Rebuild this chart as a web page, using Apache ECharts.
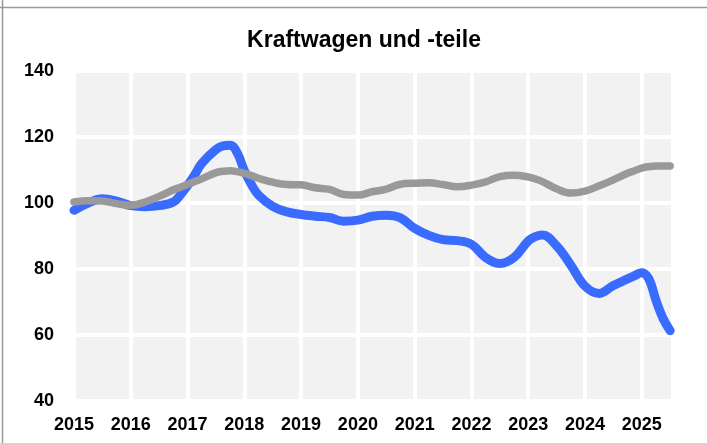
<!DOCTYPE html>
<html>
	<head>
		<meta charset="utf-8" />
		<title>Kraftwagen und -teile</title>
		<style type="text/css">
			html, body {margin:0;padding:0;background:#fff;}
			#chart {width:707px;height:443px;}
		</style>
	</head>
	<body>
		<div id="chart"></div>
		<script src="https://cdn.jsdelivr.net/npm/echarts@6/dist/echarts.min.js"></script>
		<script type="text/javascript">
			// Zeitpunkte (Jahr als Dezimalzahl, meist vierteljährlich, an Wendestellen dichter)
			const dates = [
				2015.0, 2015.25, 2015.5, 2015.75, 2016.0, 2016.25, 2016.5, 2016.75, 2016.875,
				2017.0, 2017.125, 2017.25, 2017.5, 2017.625, 2017.75, 2017.875, 2018.0, 2018.125, 2018.25, 2018.5, 2018.75,
				2019.0, 2019.25, 2019.5, 2019.75, 2020.0, 2020.25, 2020.5, 2020.75,
				2021.0, 2021.25, 2021.5, 2021.75, 2022.0, 2022.25, 2022.5, 2022.75,
				2023.0, 2023.125, 2023.25, 2023.5, 2023.75, 2024.0, 2024.25, 2024.5, 2024.75, 2024.875,
				2025.0, 2025.125, 2025.25, 2025.375, 2025.5
			];
			// blaue Linie
			const blueValues = [
				97.8, 100.0, 101.3, 100.6, 99.2, 98.9, 99.2, 100.3, 102.5,
				105.3, 108.5, 112.0, 116.2, 117.3, 117.5, 115.2, 109.8, 105.6, 102.4, 99.0, 97.3,
				96.5, 96.0, 95.6, 94.5, 94.8, 96.0, 96.3, 95.5,
				92.3, 90.2, 88.9, 88.6, 87.5, 83.5, 81.7, 83.5,
				88.5, 89.8, 90.3, 87.0, 81.2, 74.8, 72.6, 75.0, 77.0, 78.0,
				78.9, 77.0, 70.5, 65.0, 61.3
			];
			// graue Linie
			const grayValues = [
				100.3, 100.7, 100.6, 99.8, 99.3, 100.3, 102.0, 104.0, 104.8,
				105.6, 106.5, 107.3, 109.2, 109.6, 109.8, 109.5, 109.0, 108.3, 107.5, 106.3, 105.6,
				105.5, 104.6, 104.1, 102.6, 102.4, 103.4, 104.2, 105.7,
				106.0, 106.1, 105.6, 104.9, 105.4, 106.4, 108.0, 108.4,
				107.9, 107.3, 106.5, 104.3, 103.0, 103.6, 105.2, 107.0, 109.0, 109.8,
				110.6, 111.0, 111.2, 111.2, 111.2
			];
			const yTicks = [40, 60, 80, 100, 120, 140];

			const chart = echarts.init(document.getElementById("chart"));
			const font = "'Liberation Sans', Arial, sans-serif";
			const option = {
				animation: false,
				title: {
					text: 'Kraftwagen und -teile',
					left: 359,
					top: 24,
					textAlign: 'center',
					textStyle: {
						fontFamily: font,
						fontSize: 23,
						fontWeight: 'bold',
						color: '#000'
					}
				},
				graphic: [
					{type: 'line', shape: {x1: 2.5, y1: 0, x2: 2.5, y2: 443}, style: {stroke: '#999', lineWidth: 1.5}},
					{type: 'line', shape: {x1: 0, y1: 7.5, x2: 707, y2: 7.5}, style: {stroke: '#999', lineWidth: 1.5}}
				],
				grid: {
					left: 74,
					right: 34,
					top: 71,
					bottom: 42,
					show: true,
					backgroundColor: '#f2f2f2',
					borderWidth: 0
				},
				xAxis: {
					type: 'value',
					min: 2015,
					max: 2025.55,
					interval: 1,
					axisLine: {show: false},
					axisTick: {show: false},
					axisLabel: {
						margin: 15,
						fontFamily: font,
						fontSize: 18,
						fontWeight: 'bold',
						color: '#000',
						formatter: v => Number.isInteger(v) ? String(v) : ''
					},
					splitLine: {
						show: true,
						lineStyle: {color: '#fff', width: 4}
					}
				},
				yAxis: {
					type: 'value',
					min: yTicks[0],
					max: yTicks[yTicks.length - 1],
					interval: 20,
					axisLine: {show: false},
					axisTick: {show: false},
					axisLabel: {
						margin: 20,
						fontFamily: font,
						fontSize: 18,
						fontWeight: 'bold',
						color: '#000'
					},
					splitLine: {
						lineStyle: {color: '#fff', width: 4}
					}
				},
				series: [{
					name: 'Reihe 1',
					type: 'line',
					smooth: 0.4,
					showSymbol: false,
					lineStyle: {color: '#3a6bff', width: 9, cap: 'round', join: 'round'},
					data: dates.map((d, i) => [d, blueValues[i]])
				}, {
					name: 'Reihe 2',
					type: 'line',
					smooth: 0.4,
					showSymbol: false,
					lineStyle: {color: '#999999', width: 7.5, cap: 'round', join: 'round'},
					data: dates.map((d, i) => [d, grayValues[i]])
				}]
			};
			chart.setOption(option);
		</script>
	</body>
</html>
